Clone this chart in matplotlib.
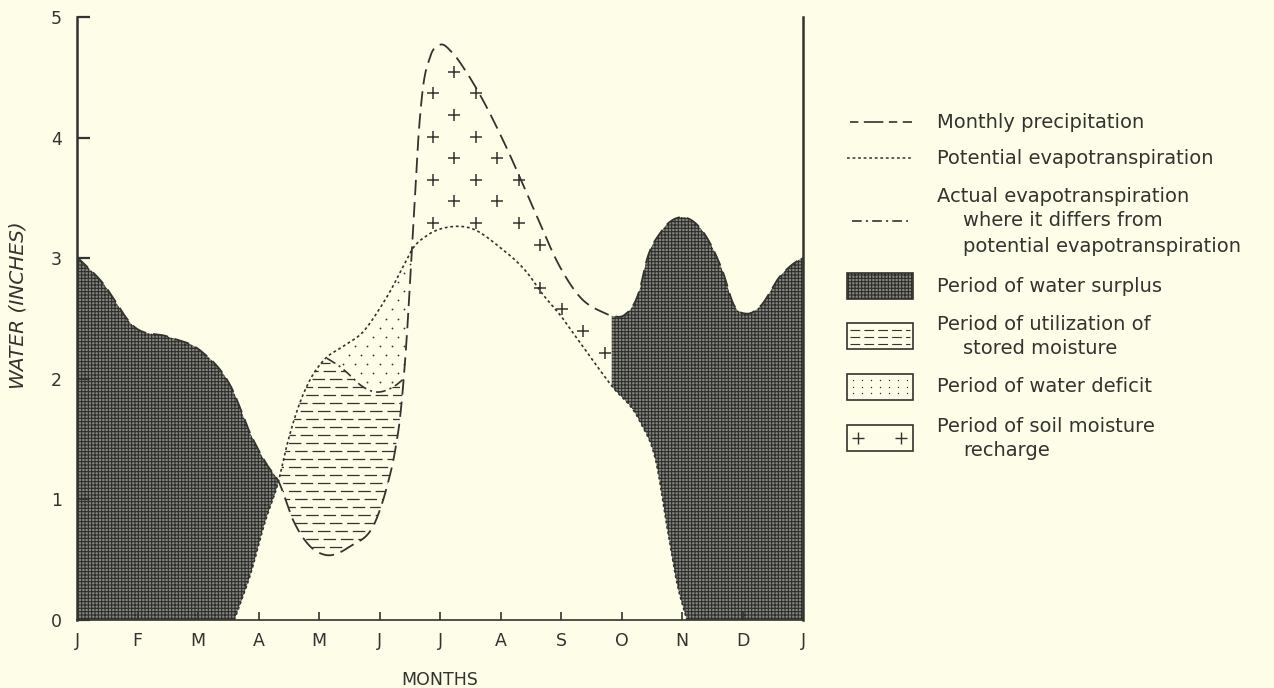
import numpy as np
import matplotlib.pyplot as plt
from matplotlib.patches import Polygon, Rectangle

# monthly water balance, x in months from the start of January
months = ["J", "F", "M", "A", "M", "J", "J", "A", "S", "O", "N", "D", "J"]

precip_x = [0.0, 0.4, 0.95, 1.5, 2.05, 2.55, 2.88, 3.15, 3.33, 3.57, 3.8, 4.1,
            4.51, 4.96, 5.12, 5.26, 5.34, 5.40, 5.46, 5.51, 5.555, 5.60, 5.65,
            5.71, 5.83, 6.0, 6.21, 6.44, 6.71, 7.04, 7.54, 7.98, 8.31, 8.7,
            8.86, 9.05, 9.3, 9.42, 9.64, 10.0, 10.3, 10.5, 10.68, 10.85,
            11.07, 11.29, 11.62, 11.78, 12.0]
precip_y = [3.01, 2.81, 2.43, 2.35, 2.23, 1.93, 1.53, 1.28, 1.15, 0.83, 0.64,
            0.54, 0.61, 0.85, 1.10, 1.41, 1.68, 2.0, 2.42, 2.85, 3.25, 3.65,
            4.05, 4.38, 4.66, 4.77, 4.70, 4.54, 4.31, 3.98, 3.42, 2.93, 2.68,
            2.55, 2.52, 2.53, 2.74, 2.99, 3.21, 3.34, 3.25, 3.09, 2.88, 2.62,
            2.54, 2.60, 2.85, 2.93, 3.01]

pet_x = [2.6, 2.88, 3.1, 3.33, 3.47, 3.64, 3.85, 4.07, 4.4, 4.73, 5.0, 5.17,
         5.39, 5.55, 5.79, 6.17, 6.5, 6.99, 7.44, 7.7, 8.0, 8.2, 8.84, 9.3,
         9.58, 9.75, 9.92, 10.08]
pet_y = [0.0, 0.4, 0.8, 1.15, 1.45, 1.74, 1.99, 2.15, 2.27, 2.39, 2.58, 2.72,
         2.93, 3.08, 3.19, 3.26, 3.25, 3.09, 2.88, 2.70, 2.52, 2.38, 1.94,
         1.65, 1.29, 0.78, 0.30, 0.0]

aet_x = [4.13, 4.35, 4.51, 4.68, 4.96, 5.14, 5.28, 5.40]
aet_y = [2.17, 2.10, 2.03, 1.95, 1.89, 1.91, 1.95, 2.0]

soil_full = 8.84  # soil back at capacity, surplus begins

legend_labels = [
    ["Monthly precipitation"],
    ["Potential evapotranspiration"],
    ["Actual evapotranspiration", "where it differs from",
     "potential evapotranspiration"],
    ["Period of water surplus"],
    ["Period of utilization of", "stored moisture"],
    ["Period of water deficit"],
    ["Period of soil moisture", "recharge"],
]

BG = "#fdfde8"
INK = "#33332f"
FS = 12.5

plt.rcParams["font.family"] = "DejaVu Sans"
plt.rcParams["lines.scale_dashes"] = False
plt.rcParams["hatch.linewidth"] = 0.75

P_DASH = (11, 5)
PE_DASH = (2, 2)
AE_DASH = (7, 3, 1.5, 3)


def smooth(xk, yk, xs):
    # cubic hermite through the points, tangents from finite differences
    xk = np.asarray(xk, float)
    yk = np.asarray(yk, float)
    m = np.gradient(yk, xk)
    i = np.clip(np.searchsorted(xk, xs) - 1, 0, len(xk) - 2)
    h = xk[i + 1] - xk[i]
    t = (xs - xk[i]) / h
    t2, t3 = t * t, t * t * t
    return ((2 * t3 - 3 * t2 + 1) * yk[i] + (t3 - 2 * t2 + t) * h * m[i]
            + (-2 * t3 + 3 * t2) * yk[i + 1] + (t3 - t2) * h * m[i + 1])


xs = np.linspace(0, 12, 4801)
P = smooth(precip_x, precip_y, xs)
pe_on = (xs >= pet_x[0]) & (xs <= pet_x[-1])
PE = np.where(pe_on, smooth(pet_x, pet_y, xs), 0.0)
ae_on = (xs >= aet_x[0]) & (xs <= aet_x[-1])
AE = np.where(ae_on, smooth(aet_x, aet_y, xs), np.nan)

# where precipitation drops below / climbs back over potential ET
win = (xs > 3.0) & (xs < 3.6)
x_dry = xs[win][np.argmax(P[win] <= PE[win])]
win = (xs > 5.3) & (xs < 5.9)
x_wet = xs[win][np.argmax(P[win] >= PE[win])]

fig = plt.figure(figsize=(12.74, 6.88), dpi=100, facecolor=BG)
ax = fig.add_axes([77 / 1274, 68 / 688, 726 / 1274, 603 / 688])
ax.set_facecolor(BG)
ax.set_xlim(0, 12)
ax.set_ylim(0, 5)


def band(mask, lower, upper):
    x = xs[mask]
    verts = np.vstack([np.column_stack([x, lower[mask]]),
                       np.column_stack([x[::-1], upper[mask][::-1]])])
    return verts


surplus_style = dict(facecolor="#85857f", hatch="+++++", edgecolor="#2c2c29",
                     linewidth=0, zorder=1)

# water surplus, winter and late autumn
for m in [xs <= x_dry, xs >= soil_full]:
    ax.add_patch(Polygon(band(m, PE, P), closed=True, **surplus_style))

# utilization of stored moisture: between precipitation and actual ET
m_use = (xs >= x_dry) & (xs <= aet_x[-1])
top_use = np.where(ae_on, np.fmin(AE, PE), PE)
use_poly = Polygon(band(m_use, P, top_use), closed=True, facecolor="none",
                   edgecolor="none", zorder=1)
ax.add_patch(use_poly)
rows = np.arange(0.47, 2.4, 8 / 120.6)
for k, yr in enumerate(rows):
    ln, = ax.plot([3.2, 5.6], [yr, yr], color=INK, lw=0.9, zorder=2,
                  linestyle=((k % 3) * 4, (9, 3.5)))
    ln.set_clip_path(use_poly)


def lattice_between(lower, upper, x_lo, x_hi, x0, y0, dx, dy, n, margin):
    # staggered grid of points kept where lower + margin < y < upper - margin
    pts = []
    for j in range(-n, n + 1):
        for k in range(-n, n + 1):
            if (k + j) % 2:
                continue
            x, y = x0 + k * dx, y0 + j * dy
            if not (x_lo <= x <= x_hi):
                continue
            lo = np.interp(x, xs, lower)
            hi = np.interp(x, xs, upper)
            if lo + margin < y < hi - margin:
                pts.append((x, y))
    return np.array(pts)


# water deficit: between actual ET (or precipitation) and potential ET
low_def = np.where(ae_on, np.fmax(np.nan_to_num(AE, nan=-1), P), P)
dots = lattice_between(low_def, PE, aet_x[0], x_wet, 4.9, 2.2, 0.1, 0.075,
                       20, 0.04)
ax.plot(dots[:, 0], dots[:, 1], "o", color=INK, ms=1.3, mew=0, zorder=3)

# soil moisture recharge
crosses = lattice_between(PE, P, x_wet, soil_full, 5.884, 3.292, 0.3554,
                          0.1791, 14, 0.02)
ax.plot(crosses[:, 0], crosses[:, 1], "+", color=INK, ms=8, mew=1.1,
        zorder=3)

# curves
ax.plot(xs, P, color=INK, lw=1.3, dashes=P_DASH, zorder=4)
ax.plot(xs[pe_on], PE[pe_on], color=INK, lw=1.2, dashes=PE_DASH, zorder=4)
ax.plot(xs[ae_on], AE[ae_on], color=INK, lw=1.2, dashes=AE_DASH, zorder=4)

# axes frame
ax.spines["top"].set_visible(False)
for s in ["left", "right"]:
    ax.spines[s].set_linewidth(1.8)
    ax.spines[s].set_color(INK)
ax.spines["bottom"].set_linewidth(1.2)
ax.spines["bottom"].set_color(INK)
ax.set_xticks(range(13))
ax.set_xticklabels(months)
ax.set_yticks(range(6))
ax.tick_params(axis="y", direction="in", length=9, width=1.6, pad=11,
               labelsize=FS, colors=INK)
ax.tick_params(axis="x", direction="in", length=6, width=1.2, pad=9,
               labelsize=FS, colors=INK)
ax.xaxis.get_major_ticks()[0].tick1line.set_visible(False)
ax.xaxis.get_major_ticks()[-1].tick1line.set_visible(False)

fig.text(440 / 1274, 1 - 680 / 688, "MONTHS", ha="center", va="center",
         fontsize=FS, color=INK)
fig.text(18 / 1274, 1 - 305 / 688, "WATER (INCHES)", ha="center",
         va="center", rotation=90, fontsize=14.5, style="italic", color=INK)

# key, laid out in figure pixels
lg = fig.add_axes([0, 0, 1, 1])
lg.set_xlim(0, 1274)
lg.set_ylim(688, 0)
lg.set_axis_off()

text_x, indent = 937, 26
row_y = [[122], [158], [196, 221, 247], [286], [324, 349], [387], [426, 450]]
for lines, ys in zip(legend_labels, row_y):
    for n, (txt, yy) in enumerate(zip(lines, ys)):
        lg.text(text_x + (indent if n else 0), yy, txt, ha="left",
                va="center", fontsize=14, color=INK)

lg.plot([850, 912], [122, 122], color=INK, lw=1.2, dashes=(6, 4, 14, 4))
lg.plot([847, 912], [158, 158], color=INK, lw=1.1, dashes=PE_DASH)
lg.plot([852, 908], [221, 221], color=INK, lw=1.2, dashes=AE_DASH)

box_w, box_h = 66, 26
lg.add_patch(Rectangle((847, 273), box_w, box_h, **surplus_style))
lg.add_patch(Rectangle((847, 273), box_w, box_h, fill=False, ec=INK, lw=1.2))

for y0 in [323, 374, 425]:
    lg.add_patch(Rectangle((847, y0), box_w, box_h, fill=False, ec=INK,
                           lw=1.2))
for yy in [330, 337, 344]:
    lg.plot([850, 910], [yy, yy], color=INK, lw=0.8, dashes=(7, 3))
dot_x = np.arange(853, 910, 9)
for yy in [380, 387, 393]:
    lg.plot(dot_x, [yy] * len(dot_x), "o", color=INK, ms=1.0, mew=0)
lg.plot([858, 901], [438, 438], "+", color=INK, ms=9, mew=1.0)

fig.savefig("out.png", dpi=100, facecolor=BG)
